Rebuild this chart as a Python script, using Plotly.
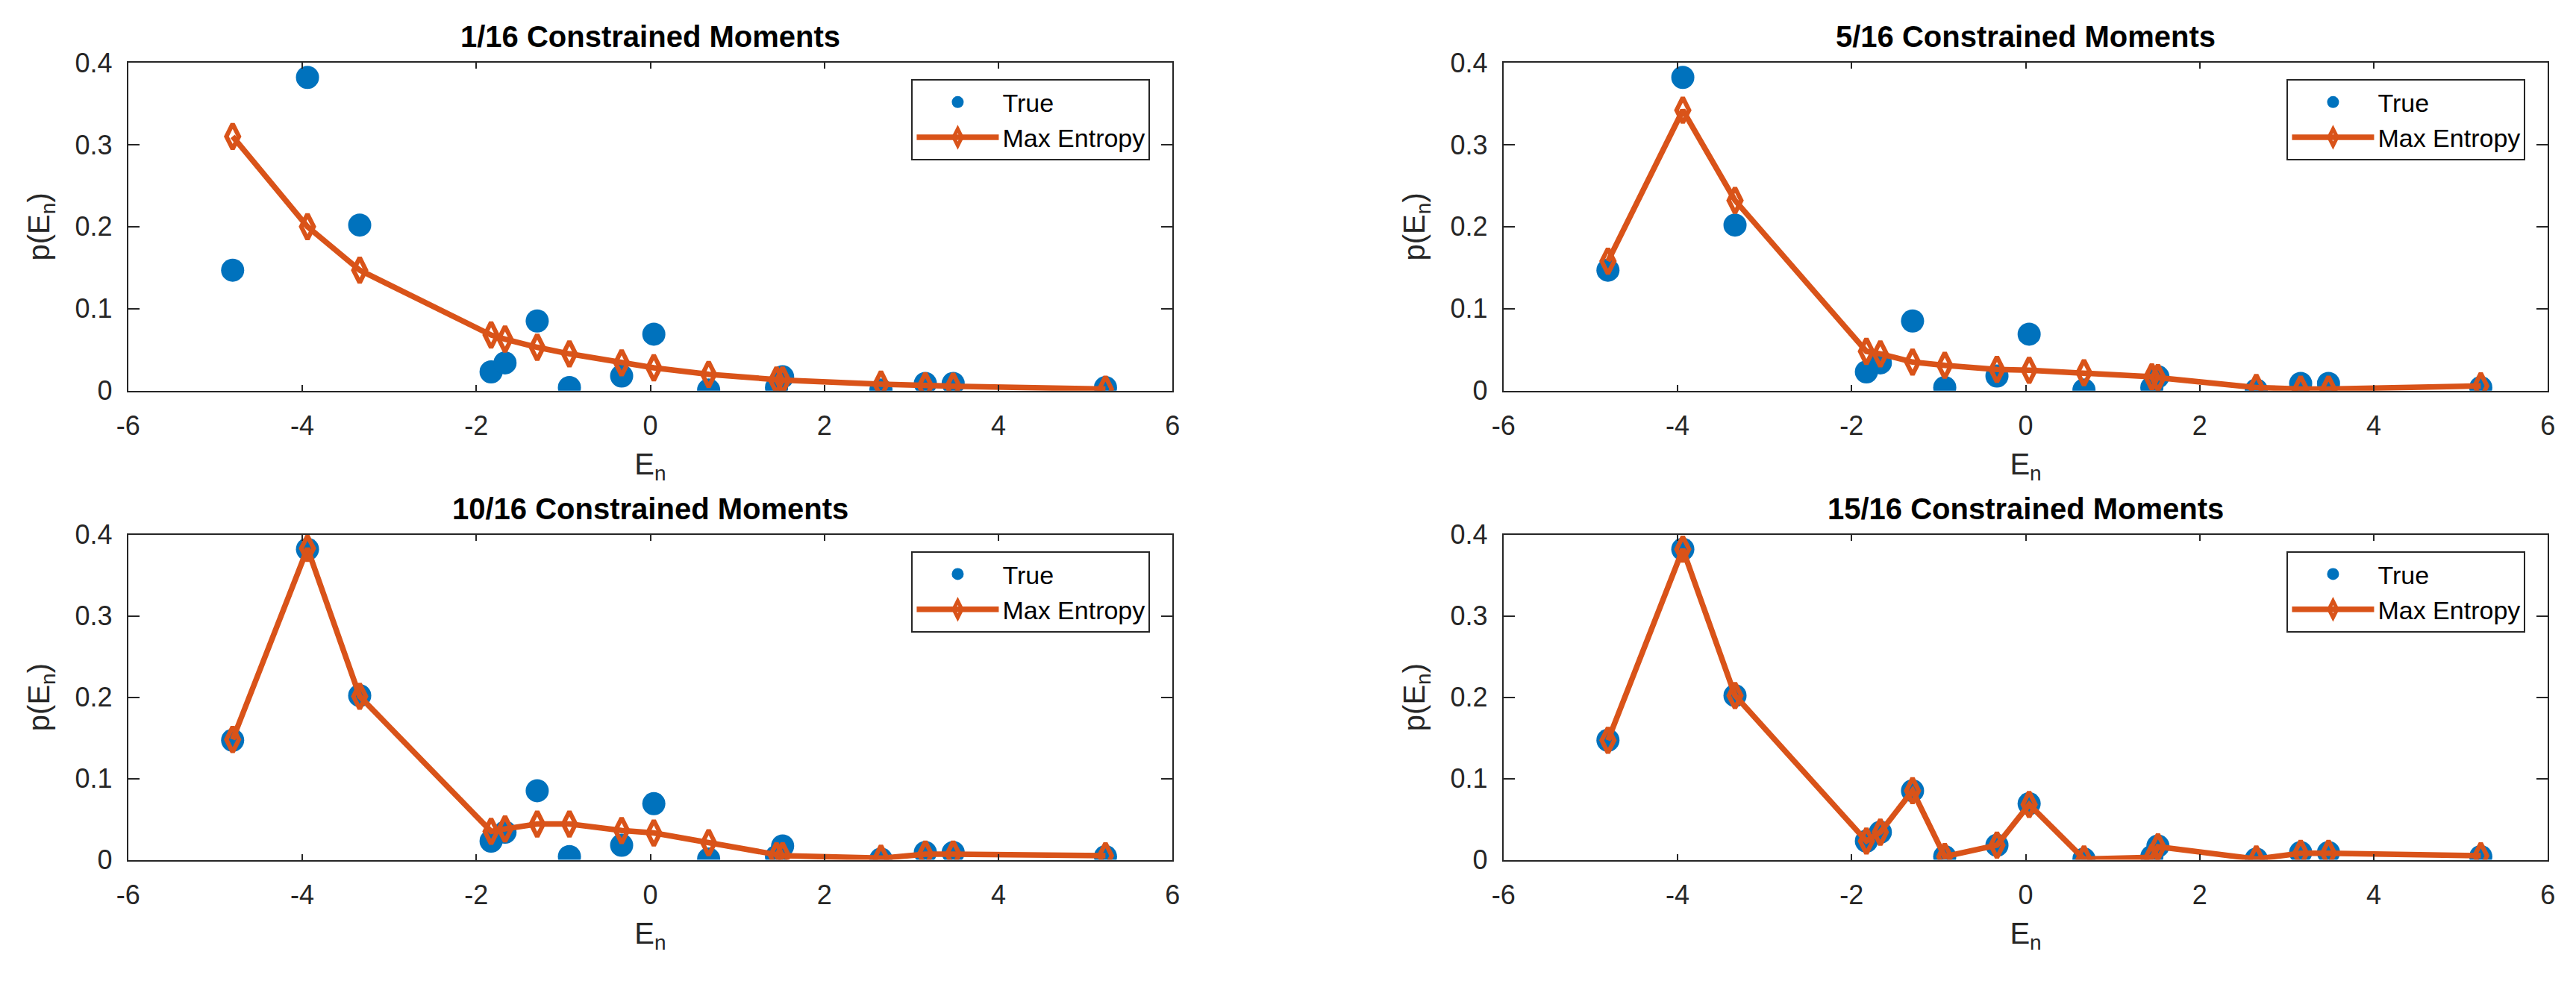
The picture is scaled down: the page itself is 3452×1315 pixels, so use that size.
import plotly.graph_objects as go

# energies E_n (shared by all panels)
E_n = [-4.80, -3.94, -3.34, -1.83, -1.67, -1.30, -0.93, -0.33, 0.04, 0.67,
       1.45, 1.52, 2.65, 3.16, 3.48, 5.23]

# true distribution
p_true = [0.147, 0.382, 0.202, 0.023, 0.034, 0.085, 0.004, 0.018, 0.069, 0.001,
          0.004, 0.017, 0.001, 0.009, 0.009, 0.004]

# max entropy estimates for different numbers of constrained moments
maxent_1 = [0.310, 0.200, 0.147, 0.068, 0.063, 0.053, 0.045, 0.034, 0.028, 0.020,
            0.013, 0.013, 0.008, 0.006, 0.0055, 0.002]
maxent_5 = [0.158, 0.342, 0.232, 0.048, 0.045, 0.035, 0.031, 0.026, 0.025, 0.022,
            0.017, 0.016, 0.004, 0.002, 0.002, 0.006]
maxent_10 = [0.148, 0.383, 0.201, 0.035, 0.038, 0.044, 0.044, 0.036, 0.033, 0.021,
             0.005, 0.005, 0.002, 0.007, 0.007, 0.005]
maxent_15 = [0.147, 0.382, 0.202, 0.023, 0.034, 0.085, 0.004, 0.018, 0.068, 0.001,
             0.003, 0.016, 0.001, 0.008, 0.008, 0.005]

titles = ["1/16 Constrained Moments", "5/16 Constrained Moments",
          "10/16 Constrained Moments", "15/16 Constrained Moments"]
estimates = [maxent_1, maxent_5, maxent_10, maxent_15]

# tick labels (matlab style, plain hyphen minus)
x_ticks = [-6, -4, -2, 0, 2, 4, 6]
x_ticklabels = ["-6", "-4", "-2", "0", "2", "4", "6"]
y_ticks = [0, 0.1, 0.2, 0.3, 0.4]
y_ticklabels = ["0", "0.1", "0.2", "0.3", "0.4"]

BLUE = "#0072BD"
ORANGE = "#D95319"
AXC = "#262626"
FONT = "Liberation Sans, Arial, Helvetica, sans-serif"

W, H = 3452, 1315
# axes boxes in pixels (left, right, top, bottom)
boxes = [(157, 1567, 66, 520), (2014, 3424, 66, 520),
         (157, 1567, 719, 1169), (2014, 3424, 719, 1169)]

fig = go.Figure()
layout = {}
for i, (title, est) in enumerate(zip(titles, estimates)):
    k = i + 1
    sfx = "" if k == 1 else str(k)
    xa, ya = "x" + sfx, "y" + sfx
    leg = "legend" + sfx

    fig.add_trace(go.Scatter(
        x=E_n, y=p_true, mode="markers", name="True",
        marker=dict(color=BLUE, size=31, line=dict(width=0)),
        xaxis=xa, yaxis=ya, legend=leg,
    ))
    fig.add_trace(go.Scatter(
        x=E_n, y=est, mode="lines+markers", name="Max Entropy",
        line=dict(color=ORANGE, width=7.5),
        marker=dict(symbol="diamond-tall-open", size=24, color=ORANGE,
                    line=dict(color=ORANGE, width=6)),
        xaxis=xa, yaxis=ya, legend=leg,
    ))

    l, r, t, b = boxes[i]
    dom_x = [l / W, r / W]
    dom_y = [1 - b / H, 1 - t / H]
    common = dict(showline=True, linecolor=AXC, linewidth=2, mirror="ticks",
                  ticks="inside", tickcolor=AXC, tickwidth=2,
                  showgrid=False, zeroline=False,
                  tickfont=dict(family=FONT, size=36, color=AXC))
    layout["xaxis" + sfx] = dict(
        domain=dom_x, range=[-6, 6], tickmode="array",
        tickvals=x_ticks, ticktext=x_ticklabels,
        ticklen=8, anchor=ya, ticklabelstandoff=14,
        title=dict(text="E<sub>n</sub>", font=dict(family=FONT, size=40, color=AXC),
                   standoff=18),
        **common)
    layout["yaxis" + sfx] = dict(
        domain=dom_y, range=[0, 0.4], tickmode="array",
        tickvals=y_ticks, ticktext=y_ticklabels,
        ticklen=15, anchor=xa, ticklabelstandoff=12,
        title=dict(text="p(E<sub>n</sub>)", font=dict(family=FONT, size=40, color=AXC),
                   standoff=22),
        **common)
    layout[leg] = dict(
        x=(r - 30) / W, y=1 - (t + 23) / H, xanchor="right", yanchor="top",
        bgcolor="white", bordercolor=AXC, borderwidth=2,
        font=dict(family=FONT, size=34, color="black"),
        itemwidth=110, tracegroupgap=0,
    )
    fig.add_annotation(
        text="<b>" + title + "</b>", xref=xa + " domain", yref=ya + " domain",
        x=0.5, y=1, yanchor="middle", yshift=35, showarrow=False,
        font=dict(family=FONT, size=40, color="black"),
    )

fig.update_layout(
    width=W, height=H, autosize=False,
    margin=dict(l=0, r=0, t=0, b=0),
    paper_bgcolor="white", plot_bgcolor="white",
    showlegend=True,
    **layout,
)

fig.write_html("out.html", config={"displayModeBar": False},
               post_script="document.body.style.margin='0';")
